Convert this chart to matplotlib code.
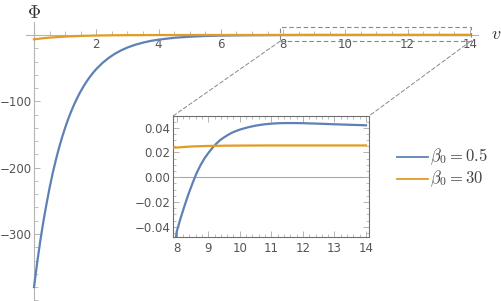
import matplotlib
matplotlib.use("Agg")
import matplotlib.pyplot as plt
from matplotlib.lines import Line2D
from matplotlib.patches import Rectangle, ConnectionPatch
from matplotlib.ticker import MultipleLocator, FixedLocator

# ---------------- data ----------------
v_blue = [0.0, 0.1, 0.2, 0.3, 0.4, 0.5, 0.6, 0.7, 0.8, 0.9, 1.0, 1.1, 1.2, 1.3, 1.4,
          1.5, 1.6, 1.7, 1.8, 1.9, 2.0, 2.2, 2.4, 2.6, 2.8, 3.0, 3.25, 3.5, 3.75,
          4.0, 4.5, 5.0, 5.5, 6.0, 6.5, 7.0, 7.5,
          8.0, 8.125, 8.25, 8.375, 8.5, 8.625, 8.75, 8.875, 9.0, 9.125, 9.25, 9.375,
          9.5, 9.625, 9.75, 9.875, 10.0, 10.25, 10.5, 10.75, 11.0, 11.25, 11.5,
          11.75, 12.0, 12.5, 13.0, 13.5, 14.0]
phi_blue = [-380, -344, -311, -281.5, -255, -230.5, -208.5, -188.7, -170.7, -154.5,
            -139.8, -126.5, -114.5, -103.6, -93.7, -84.8, -76.7, -69.4, -62.8, -56.8,
            -51.4, -42.1, -34.5, -28.2, -23.1, -18.9, -14.7, -11.5, -8.9,
            -7.0, -4.2, -2.6, -1.5, -0.9, -0.55, -0.3, -0.15,
            -0.044, -0.033, -0.023, -0.0135, -0.005, 0.003, 0.0095, 0.015, 0.0195,
            0.0235, 0.027, 0.030, 0.0322, 0.0342, 0.036, 0.0373, 0.0385, 0.0403,
            0.0417, 0.0427, 0.0433, 0.0437, 0.0438, 0.0438, 0.0437, 0.0433, 0.0428,
            0.0424, 0.0420]

v_orange = [0.0, 0.25, 0.5, 0.75, 1.0, 1.5, 2.0, 2.5, 3.0, 4.0, 5.0, 6.0, 7.0,
            8.0, 8.25, 8.5, 8.75, 9.0, 9.5, 10.0, 11.0, 12.0, 13.0, 14.0]
phi_orange = [-6.5, -5.1, -4.0, -3.1, -2.4, -1.4, -0.8, -0.45, -0.25, -0.05, 0.01,
              0.02, 0.023,
              0.0240, 0.0245, 0.0249, 0.0251, 0.0253, 0.0255, 0.0256, 0.0257,
              0.0257, 0.0257, 0.0257]

labels = [r"$\beta_0 = 0.5$", r"$\beta_0 = 30$"]
main_xticks = [2, 4, 6, 8, 10, 12, 14]
main_yticks = [-100, -200, -300]
inset_xticks = [8, 9, 10, 11, 12, 13, 14]
inset_yticks = [-0.04, -0.02, 0.00, 0.02, 0.04]

# ---------------- style ----------------
BLUE = "#5E81B5"
ORANGE = "#E19C24"
AX = "#b3b3b3"
TXT = "#555555"
plt.rcParams["mathtext.fontset"] = "cm"
plt.rcParams["font.family"] = ["DejaVu Sans"]

W, H = 502, 301
fig = plt.figure(figsize=(W / 100, H / 100), dpi=100)

def fx(px):
    return px / W

def fy(py):
    return 1 - py / H

# main axes: x px 26..478, y px 22..301
ax = fig.add_axes([fx(26), fy(301), fx(478) - fx(26), fy(22) - fy(301)])
ax.set_xlim(-0.257, 14.26)
ax.set_ylim(-401, 19.6)
ax.patch.set_alpha(0)
for s in ["top", "right"]:
    ax.spines[s].set_visible(False)
ax.spines["left"].set_position(("data", 0))
ax.spines["bottom"].set_position(("data", 0))
for s in ["left", "bottom"]:
    ax.spines[s].set_color(AX)
    ax.spines[s].set_linewidth(0.8)
ax.xaxis.set_major_locator(FixedLocator(main_xticks))
ax.xaxis.set_minor_locator(MultipleLocator(0.5))
ax.yaxis.set_major_locator(FixedLocator(main_yticks))
ax.yaxis.set_minor_locator(MultipleLocator(20))
ax.tick_params(which="both", direction="in", color=AX, labelcolor=TXT, labelsize=8.5)
ax.tick_params(which="major", length=4.3, width=0.7)
ax.tick_params(which="minor", length=2.6, width=0.6)
ax.tick_params(axis="x", pad=2.5)
ax.tick_params(axis="y", pad=1.5)
ax.set_xticklabels([str(t) for t in main_xticks])
ax.set_yticklabels(["\u2212" + str(-t) for t in main_yticks])

ax.plot(v_blue, phi_blue, color=BLUE, lw=1.6, clip_on=False, zorder=3)
ax.plot(v_orange, phi_orange, color=ORANGE, lw=1.6, clip_on=False, zorder=4)

# dashed zoom rectangle
rect = Rectangle((7.9, -9.5), 6.12, 21.5, fill=False, ls=(0, (4, 2.5)),
                 ec="#888888", lw=0.8, clip_on=False, zorder=5)
ax.add_patch(rect)

# inset axes: px x 173..369, y 116..237
ins = fig.add_axes([fx(173), fy(237), fx(369) - fx(173), fy(116) - fy(237)])
ins.set_xlim(7.883, 14.095)
ins.set_ylim(-0.0483, 0.0495)
ins.plot(v_blue, phi_blue, color=BLUE, lw=1.6, zorder=3)
ins.plot(v_orange, phi_orange, color=ORANGE, lw=1.6, zorder=4)
ins.axhline(0, color="#a8a8a8", lw=0.8, zorder=1)
for s in ins.spines.values():
    s.set_color("#6e6e6e")
    s.set_linewidth(0.8)
ins.xaxis.set_major_locator(FixedLocator(inset_xticks))
ins.xaxis.set_minor_locator(MultipleLocator(0.2))
ins.yaxis.set_major_locator(FixedLocator(inset_yticks))
ins.yaxis.set_minor_locator(MultipleLocator(0.005))
ins.tick_params(which="both", direction="in", color=AX, labelcolor=TXT,
                labelsize=8.5, top=True, right=True)
ins.tick_params(which="major", length=4.0, width=0.7)
ins.tick_params(which="minor", length=2.2, width=0.6)
ins.tick_params(axis="y", pad=2)
ins.set_xticklabels([str(t) for t in inset_xticks])
ins.set_yticklabels([("\u2212" if t < 0 else "") + f"{abs(t):.2f}" for t in inset_yticks])

# connectors
for xa, xb in [(7.9, 0.0), (14.02, 1.0)]:
    con = ConnectionPatch(xyA=(xa, -9.5), coordsA=ax.transData,
                          xyB=(xb, 1.0), coordsB=ins.transAxes,
                          ls=(0, (4, 2.5)), color="#888888", lw=0.7)
    fig.add_artist(con)

# axis labels
fig.text(fx(34), fy(13), r"$\Phi$", ha="center", va="center", fontsize=13, color="#333333")
fig.text(fx(496), fy(34), r"$v$", ha="center", va="center", fontsize=13, color="#333333")

# legend
for yy, c, lab in [(157, BLUE, labels[0]), (179, ORANGE, labels[1])]:
    fig.add_artist(Line2D([fx(397), fx(428)], [fy(yy), fy(yy)], color=c, lw=1.3))
    fig.text(fx(430), fy(yy), lab, ha="left", va="center", fontsize=12, color="#444444")

fig.savefig("out.png", dpi=100)
